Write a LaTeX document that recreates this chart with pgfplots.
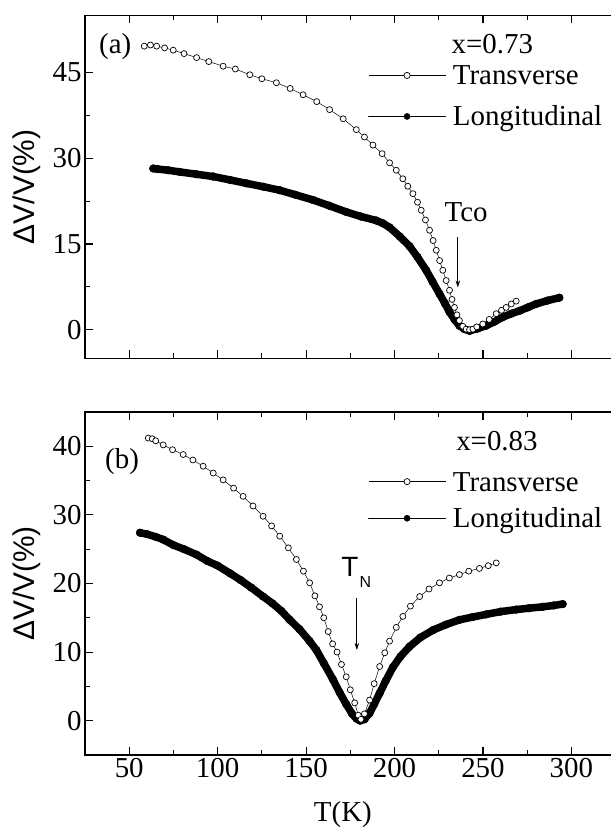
\documentclass[border=0pt]{standalone}
\usepackage{fontspec}
\setmainfont{Liberation Serif}
\setsansfont{Liberation Sans}
\usepackage{pgfplots}
\pgfplotsset{compat=1.18}
\usetikzlibrary{arrows.meta}
\newcommand\fs{\fontsize{29}{34}\selectfont}

\pgfplotsset{
 myaxis/.style={
  scale only axis, width=530.6bp, height=343bp,
  xmin=25, xmax=325, xtick={50,100,...,300}, minor x tick num=1,
  minor y tick num=1,
  tick align=inside, xtick pos=both, ytick pos=left,
  xticklabel pos=lower, yticklabel pos=left,
  major tick length=8bp, minor tick length=5bp,
  every tick/.style={black, line width=1.1bp},
  axis line style={line width=1.2bp},
  tick label style={font=\fs},
  /pgf/number format/assume math mode=true,
  ylabel={ΔV/V(\%)},
  ylabel style={font=\fontsize{30}{34}\selectfont\sffamily, at={(axis description cs:-0.109,0.5)}, anchor=center},
  legend cell align=left,
  reverse legend,
  legend image code/.code={
    \draw[black, line width=0.7bp] (0bp,0bp) -- (77bp,0bp);
    \draw[#1, line width=0.7bp, mark size=3.1bp] plot coordinates {(38.5bp,0bp)};
  },
 },
 trans/.style={black, line width=0.5bp, mark=*, mark size=3.0bp, mark options={line width=0.7bp, fill=white, solid}},
 longi/.style={black, line width=7.5bp, line join=round, line cap=round, mark=*, mark size=3.9bp, mark options={line width=0.4bp, fill=black}},
}

\begin{document}
\begin{tikzpicture}
% ---------- panel (a)
\begin{axis}[myaxis, at={(85bp,470.7bp)}, anchor=south west,
  ymin=-5, ymax=55, ytick={0,15,30,45}, xticklabel=\empty,
  legend style={draw=none, fill=none, at={(0.5334,0.8675)}, anchor=north west, inner sep=0pt,
    row sep=12bp, column sep=7bp, nodes={inner sep=0pt, text height=24bp, text depth=5bp, font=\fs}}]
\addplot[longi] table {
T v
63.6 28.2
66 28.1
72 27.9
78.6 27.6
88 27.2
97.4 26.8
107 26.2
116.3 25.6
126 25.0
135.1 24.4
144 23.6
153.9 22.7
163 21.7
172.7 20.6
181 19.8
189.7 19.1
193.5 18.6
197.2 17.9
203 16.3
208.5 14.6
213 12.7
217.9 10.4
221.5 8.4
225.4 6.3
228.5 4.6
231.1 3.1
233.9 1.8
236.7 0.7
239.5 0.1
242.4 -0.2
247 0.2
251.8 0.7
256.5 1.4
261.2 2.2
266 2.8
270.6 3.3
275.3 3.9
280 4.5
286.5 5.1
293.2 5.6
};
\addlegendentry{Longitudinal}
\addplot[trans] table {
T v
58.5 49.6
62 49.8
65.5 49.6
70 49.3
74.9 48.9
81 48.3
88.1 47.6
95 46.9
103.1 46.1
110 45.6
118.2 44.6
125 43.9
133.2 43.2
141 42.2
148.3 41.1
156 39.9
163.3 38.5
171 36.9
178.4 35.0
183 33.7
187.8 32.3
193 30.8
197.2 29.2
201 27.9
204.7 26.4
207.5 25.1
210.4 23.8
213 22.3
215.1 20.9
217.5 19.2
219.8 17.4
221.8 15.6
223.6 13.9
225.5 12.1
227.3 10.4
229.2 8.6
231.1 6.9
232.5 5.3
233.9 3.9
235.3 2.6
236.7 1.6
238.6 0.6
240.5 0.1
242.4 0.0
244.3 0.1
246.5 0.5
249.9 1.0
253.5 1.8
257.5 2.8
260.5 3.4
263.1 3.9
266 4.5
268.8 5.0
};
\addlegendentry{Transverse}
\node[font=\fs, anchor=west, inner sep=0pt] at (axis cs:232.2,49.9) {x=0.73};
\node[font=\fs, anchor=west, inner sep=0pt] at (axis cs:32.9,49.6) {(a)};
\node[font=\fs, inner sep=0pt] at (axis cs:240.5,20.6) {Tco};
\draw[-{Stealth[length=7bp,width=4.5bp]}, line width=0.8bp] (axis cs:235.8,16.2) -- (axis cs:235.8,7.4);
\end{axis}
% ---------- panel (b)
\begin{axis}[myaxis, at={(85bp,74bp)}, anchor=south west,
  ymin=-5, ymax=45, ytick={0,10,20,30,40},
  xlabel={T(K)}, xlabel style={font=\fs, at={(axis description cs:0.486,-0.175)}, anchor=center},
  legend style={draw=none, fill=none, at={(0.5334,0.8398)}, anchor=north west, inner sep=0pt,
    row sep=7.6bp, column sep=7bp, nodes={inner sep=0pt, text height=24bp, text depth=5bp, font=\fs}}]
\addplot[longi] table {
T v
56.1 27.4
60 27.2
65 26.8
69.2 26.4
75 25.6
81 25.0
88.1 24.2
94 23.3
100 22.6
106.9 21.5
113 20.5
119 19.4
125.7 18.1
131 17.1
136 16.0
140.8 14.7
146.4 13.3
152 11.6
155.8 10.3
160 8.4
165.2 6.0
169 4.1
172.7 2.4
176 1.0
178.5 0.3
180.5 0.0
183 0.2
185.9 1.1
188.5 2.4
191.6 4.0
195 5.8
199.1 7.8
203.5 9.4
208.5 10.8
214.5 12.1
221.7 13.2
229 14.0
236.7 14.7
244 15.1
251.8 15.5
260 15.9
268.8 16.2
276 16.4
283.8 16.6
290 16.8
295.1 17.0
};
\addlegendentry{Longitudinal}
\addplot[trans] table {
T v
60.8 41.2
63 41.1
65 40.8
69.2 40.2
74.5 39.5
80.5 38.8
86 38.0
91.8 37.1
97.5 36.1
103.1 35.1
109 33.9
114.4 32.7
120 31.3
125.7 29.8
130.5 28.4
135.1 26.9
140 25.2
144.5 23.5
148.5 21.8
152 20.1
155 18.2
157.6 16.6
160 15.0
162.5 13.0
165 11.2
167.5 10.0
170 8.2
172.7 6.4
175 4.5
177.5 2.6
179.5 0.8
181 0.2
183 1.0
185.9 3.0
188.5 5.4
191.6 7.9
194.5 9.9
197.2 11.6
201 13.6
204.7 15.2
209 16.7
214.2 18.1
219.5 19.2
225.4 20.1
231 20.8
236.7 21.3
242 21.8
248 22.2
253 22.6
257.5 23.0
};
\addlegendentry{Transverse}
\node[font=\fs, anchor=west, inner sep=0pt] at (axis cs:234.8,40.7) {x=0.83};
\node[font=\fs, anchor=west, inner sep=0pt] at (axis cs:36.3,37.8) {(b)};
\node[font=\fontsize{28}{32}\selectfont\sffamily, anchor=base west, inner sep=0pt] at (axis cs:169.9,21.0) {T\kern1bp\raisebox{-10.6bp}{\fontsize{16}{16}\selectfont N}};
\draw[-{Stealth[length=7bp,width=4.5bp]}, line width=0.8bp] (axis cs:178.7,17.9) -- (axis cs:178.7,10.3);
\end{axis}
\pgfresetboundingbox
\path[use as bounding box] (0,0) rectangle (611bp,829bp);
\end{tikzpicture}
\end{document}
